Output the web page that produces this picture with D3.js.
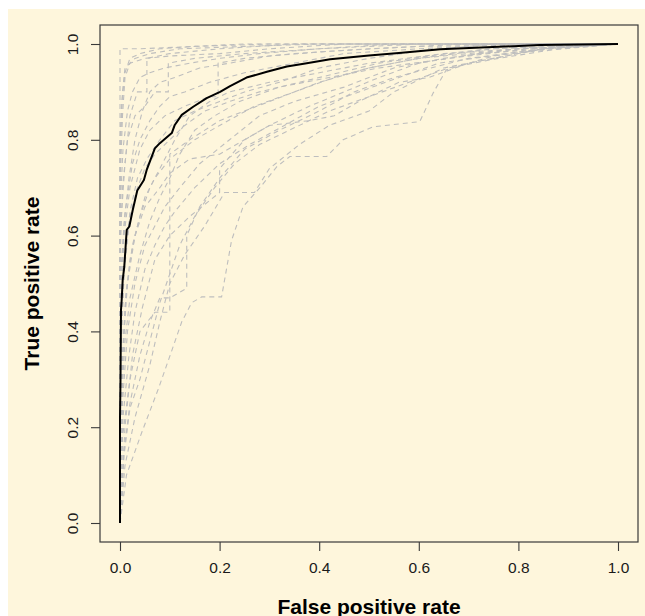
<!DOCTYPE html>
<html>
<head>
<meta charset="utf-8">
<script src="https://cdn.jsdelivr.net/npm/d3@7"></script>
<style>
  html, body { margin: 0; padding: 0; background: #ffffff; }
  svg { display: block; }
  text { font-family: "Liberation Sans", Arial, Helvetica, sans-serif; }
</style>
</head>
<body>
<div id="chart"></div>
<script>
// ---- data ----
const xTicks = [0.0, 0.2, 0.4, 0.6, 0.8, 1.0];
const yTicks = [0.0, 0.2, 0.4, 0.6, 0.8, 1.0];
const xLabel = "False positive rate";
const yLabel = "True positive rate";

// mean ROC curve: [false positive rate, true positive rate]
const meanCurve = [[0,0],[0,0.221],[0.001,0.30],[0.002,0.445],[0.0034,0.466],[0.0054,0.507],[0.0086,0.535],[0.0135,0.612],[0.0187,0.619],[0.0255,0.653],[0.0347,0.694],[0.048,0.716],[0.0536,0.737],[0.070,0.782],[0.080,0.793],[0.104,0.814],[0.110,0.831],[0.124,0.852],[0.147,0.869],[0.174,0.887],[0.201,0.900],[0.221,0.912],[0.254,0.930],[0.295,0.942],[0.335,0.953],[0.375,0.960],[0.422,0.968],[0.5,0.976],[0.56,0.981],[0.643,0.989],[0.76,0.994],[0.843,0.998],[1,1]];

// individual fold ROC curves
const foldA = [[0,0],[0.013,0.10],[0.044,0.19],[0.077,0.28],[0.104,0.36],[0.124,0.42],[0.144,0.46],[0.164,0.472],[0.204,0.472],[0.224,0.59],[0.247,0.66],[0.281,0.70],[0.315,0.744],[0.341,0.765],[0.415,0.765],[0.448,0.80],[0.508,0.827],[0.602,0.838],[0.629,0.898],[0.655,0.946],[0.75,0.975],[0.9,0.995],[0.94,1],[1,1]];
const foldB = [[0,0],[0.01,0.12],[0.03,0.22],[0.06,0.33],[0.08,0.42],[0.1,0.5],[0.13,0.56],[0.17,0.62],[0.21,0.69],[0.27,0.69],[0.3,0.74],[0.36,0.79],[0.42,0.83],[0.5,0.86],[0.55,0.9],[0.65,0.95],[0.8,0.98],[0.9,1],[1,1]];
const foldC = [[0,0],[0.008,0.15],[0.02,0.25],[0.04,0.35],[0.06,0.42],[0.08,0.47],[0.1,0.47],[0.134,0.49],[0.134,0.6],[0.16,0.66],[0.2,0.72],[0.25,0.78],[0.32,0.82],[0.4,0.86],[0.47,0.9],[0.55,0.93],[0.7,0.97],[0.85,0.99],[1,1]];
const foldD = [[0,0],[0.005,0.18],[0.02,0.3],[0.04,0.4],[0.07,0.44],[0.1,0.44],[0.1,0.77],[0.14,0.8],[0.2,0.84],[0.3,0.88],[0.4,0.92],[0.5,0.95],[0.6,0.97],[0.8,0.99],[1,1]];
const foldE = [[0,0],[0.01,0.2],[0.025,0.35],[0.045,0.45],[0.07,0.55],[0.1,0.6],[0.14,0.64],[0.2,0.69],[0.2,0.74],[0.25,0.8],[0.3,0.83],[0.38,0.84],[0.43,0.85],[0.48,0.88],[0.56,0.92],[0.62,0.93],[0.7,0.96],[0.85,0.99],[1,1]];
const foldF = [[0,0],[0.005,0.25],[0.015,0.4],[0.03,0.5],[0.05,0.58],[0.07,0.62],[0.09,0.66],[0.12,0.7],[0.16,0.75],[0.22,0.8],[0.28,0.85],[0.35,0.88],[0.45,0.91],[0.55,0.95],[0.65,0.97],[0.8,0.99],[1,1]];
const foldG = [[0,0],[0.003,0.3],[0.01,0.45],[0.02,0.55],[0.035,0.62],[0.05,0.68],[0.07,0.72],[0.1,0.76],[0.15,0.8],[0.2,0.83],[0.27,0.87],[0.35,0.9],[0.43,0.93],[0.5,0.95],[0.6,0.97],[0.75,0.99],[1,1]];
const foldH = [[0,0],[0.005,0.35],[0.015,0.5],[0.03,0.6],[0.05,0.66],[0.08,0.7],[0.1,0.73],[0.14,0.76],[0.2,0.77],[0.25,0.8],[0.3,0.83],[0.38,0.87],[0.45,0.9],[0.52,0.93],[0.6,0.96],[0.72,0.98],[1,1]];
const foldI = [[0,0],[0.002,0.4],[0.01,0.55],[0.02,0.65],[0.035,0.72],[0.054,0.76],[0.08,0.8],[0.11,0.84],[0.15,0.86],[0.2,0.88],[0.25,0.9],[0.32,0.92],[0.4,0.95],[0.5,0.97],[0.6,0.985],[0.75,1],[1,1]];
const foldJ = [[0,0],[0.002,0.45],[0.008,0.6],[0.02,0.7],[0.04,0.78],[0.06,0.82],[0.09,0.85],[0.13,0.87],[0.18,0.89],[0.197,0.89],[0.197,0.96],[0.25,0.97],[0.35,0.98],[0.5,0.99],[0.7,1],[1,1]];
const foldK = [[0,0],[0,0.5],[0.01,0.65],[0.025,0.75],[0.04,0.8],[0.06,0.84],[0.08,0.87],[0.1,0.89],[0.13,0.9],[0.18,0.92],[0.25,0.94],[0.35,0.96],[0.45,0.98],[0.6,0.99],[0.8,1],[1,1]];
const foldL = [[0,0],[0,0.55],[0.005,0.7],[0.015,0.8],[0.03,0.85],[0.05,0.87],[0.07,0.9],[0.097,0.9],[0.097,0.96],[0.15,0.97],[0.25,0.98],[0.4,0.99],[0.6,1],[1,1]];
const foldM = [[0,0],[0,0.6],[0.01,0.75],[0.02,0.85],[0.035,0.9],[0.054,0.9],[0.054,0.97],[0.1,0.98],[0.2,0.99],[0.35,1],[1,1]];
const foldN = [[0,0],[0,0.7],[0.005,0.85],[0.01,0.93],[0.02,0.96],[0.05,0.97],[0.1,0.975],[0.2,0.98],[0.3,0.99],[0.45,1],[1,1]];
const foldO = [[0,0],[0,0.99],[0.04,0.99],[0.15,0.995],[0.3,1],[1,1]];
const foldP = [[0,0],[0,0.8],[0.005,0.9],[0.01,0.95],[0.03,0.97],[0.06,0.98],[0.12,0.99],[0.25,0.995],[0.4,1],[1,1]];
const foldQ = [[0,0],[0.004,0.3],[0.012,0.48],[0.025,0.58],[0.04,0.64],[0.06,0.7],[0.08,0.74],[0.11,0.8],[0.14,0.85],[0.18,0.88],[0.22,0.9],[0.3,0.92],[0.4,0.94],[0.5,0.96],[0.65,0.98],[0.8,0.99],[1,1]];
const foldR = [[0,0],[0.006,0.22],[0.018,0.35],[0.03,0.44],[0.05,0.53],[0.07,0.58],[0.09,0.62],[0.11,0.65],[0.15,0.7],[0.2,0.75],[0.26,0.79],[0.33,0.83],[0.4,0.87],[0.48,0.9],[0.56,0.93],[0.64,0.96],[0.78,0.98],[1,1]];
const foldS = [[0,0],[0.003,0.25],[0.01,0.38],[0.02,0.47],[0.04,0.56],[0.06,0.63],[0.08,0.68],[0.1,0.72],[0.12,0.77],[0.15,0.82],[0.19,0.85],[0.24,0.88],[0.32,0.91],[0.42,0.93],[0.52,0.95],[0.66,0.97],[0.82,0.99],[1,1]];
const foldT = [[0,0],[0,0.45],[0.008,0.62],[0.018,0.72],[0.03,0.8],[0.045,0.86],[0.06,0.9],[0.08,0.92],[0.11,0.93],[0.16,0.95],[0.22,0.96],[0.3,0.975],[0.42,0.985],[0.6,0.995],[1,1]];
const foldU = [[0,0],[0.008,0.14],[0.02,0.24],[0.04,0.3],[0.06,0.38],[0.08,0.46],[0.1,0.52],[0.12,0.58],[0.15,0.64],[0.19,0.7],[0.23,0.75],[0.28,0.79],[0.34,0.82],[0.42,0.86],[0.5,0.89],[0.58,0.92],[0.66,0.95],[0.76,0.97],[0.88,0.99],[1,1]];
const foldV = [[0,0],[0,0.65],[0.006,0.78],[0.015,0.86],[0.025,0.9],[0.04,0.93],[0.06,0.94],[0.09,0.95],[0.14,0.96],[0.2,0.97],[0.28,0.98],[0.4,0.99],[0.55,1],[1,1]];
const foldW = [[0,0],[0.002,0.35],[0.008,0.52],[0.02,0.64],[0.035,0.7],[0.05,0.74],[0.07,0.77],[0.1,0.8],[0.13,0.83],[0.17,0.86],[0.22,0.88],[0.28,0.9],[0.36,0.92],[0.44,0.94],[0.52,0.96],[0.62,0.975],[0.74,0.99],[1,1]];
const foldX = [[0,0],[0,0.75],[0.004,0.88],[0.01,0.94],[0.02,0.97],[0.04,0.98],[0.08,0.99],[0.15,0.995],[0.25,1],[1,1]];

const folds = [foldA, foldB, foldC, foldD, foldE, foldF, foldG, foldH, foldI, foldJ, foldK, foldL,
               foldM, foldN, foldO, foldP, foldQ, foldR, foldS, foldT, foldU, foldV, foldW, foldX];

// ---- layout ----
const W = 645, H = 616;
const svg = d3.select("#chart").append("svg").attr("width", W).attr("height", H);

svg.append("rect").attr("x", 8).attr("y", 9).attr("width", W - 8).attr("height", H - 9)
   .attr("fill", "#fef6dc");

const x = d3.scaleLinear().domain([0, 1]).range([120, 618]);
const y = d3.scaleLinear().domain([0, 1]).range([523, 44]);

const box = { left: 100, right: 638, top: 25, bottom: 542 };

const line = d3.line().x(d => x(d[0])).y(d => y(d[1]));

// gray dashed fold curves
svg.append("g").selectAll("path").data(folds).join("path")
   .attr("d", line)
   .attr("fill", "none")
   .attr("stroke", "#bebebe")
   .attr("stroke-width", 1.1)
   .attr("stroke-dasharray", "5,4");

// mean curve
svg.append("path").datum(meanCurve)
   .attr("d", line)
   .attr("fill", "none")
   .attr("stroke", "#000")
   .attr("stroke-width", 2)
   .attr("stroke-linejoin", "round");

// frame
svg.append("rect")
   .attr("x", box.left).attr("y", box.top)
   .attr("width", box.right - box.left).attr("height", box.bottom - box.top)
   .attr("fill", "none").attr("stroke", "#3a3a3a").attr("stroke-width", 1.2);

// x axis
const xAxis = d3.axisBottom(x).tickValues(xTicks).tickFormat(d3.format(".1f"))
   .tickSize(9).tickPadding(11);
const gx = svg.append("g").attr("transform", `translate(0,${box.bottom})`).call(xAxis);
gx.select(".domain").remove();
gx.selectAll("line").attr("stroke", "#3a3a3a").attr("stroke-width", 1.1);
gx.selectAll("text").attr("font-size", 15.5).attr("fill", "#1a1a1a")
   .attr("font-family", "'Liberation Sans', Arial, sans-serif");

// y axis (R style: labels parallel to axis)
const yAxis = d3.axisLeft(y).tickValues(yTicks).tickFormat(d3.format(".1f")).tickSize(9);
const gy = svg.append("g").attr("transform", `translate(${box.left},0)`).call(yAxis);
gy.select(".domain").remove();
gy.selectAll("line").attr("stroke", "#3a3a3a").attr("stroke-width", 1.1);
gy.selectAll("text")
   .attr("font-size", 15.5).attr("fill", "#1a1a1a")
   .attr("font-family", "'Liberation Sans', Arial, sans-serif")
   .attr("x", null).attr("dy", null)
   .attr("text-anchor", "middle")
   .attr("transform", "translate(-22,0) rotate(-90)");

// axis titles
svg.append("text")
   .attr("x", (x(0) + x(1)) / 2).attr("y", 614)
   .attr("text-anchor", "middle")
   .attr("font-size", 21).attr("font-weight", "bold").attr("fill", "#000")
   .text(xLabel);

svg.append("text")
   .attr("transform", `translate(39,${(y(0) + y(1)) / 2}) rotate(-90)`)
   .attr("text-anchor", "middle")
   .attr("font-size", 21).attr("font-weight", "bold").attr("fill", "#000")
   .text(yLabel);
</script>
</body>
</html>
